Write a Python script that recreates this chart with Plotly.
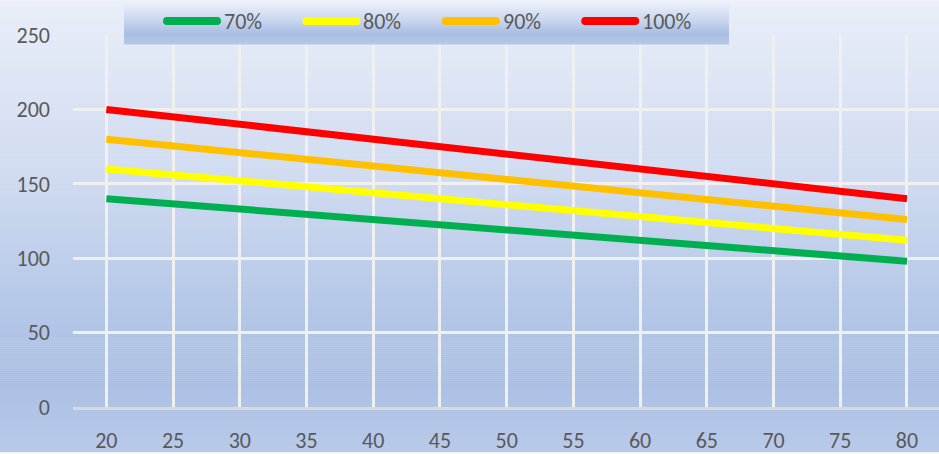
import plotly.graph_objects as go

ages = [20, 25, 30, 35, 40, 45, 50, 55, 60, 65, 70, 75, 80]
hr70 = [140, 136.5, 133, 129.5, 126, 122.5, 119, 115.5, 112, 108.5, 105, 101.5, 98]
hr80 = [160, 156, 152, 148, 144, 140, 136, 132, 128, 124, 120, 116, 112]
hr90 = [180, 175.5, 171, 166.5, 162, 157.5, 153, 148.5, 144, 139.5, 135, 130.5, 126]
hr100 = [200, 195, 190, 185, 180, 175, 170, 165, 160, 155, 150, 145, 140]
series_names = ["70%", "80%", "90%", "100%"]
series_values = [hr70, hr80, hr90, hr100]
series_colors = ["#00b050", "#ffff00", "#ffc000", "#ff0000"]
y_ticks = [0, 50, 100, 150, 200, 250]

W, H = 939, 454
ML, MR, MT, MB = 73, 0, 35, 45
PW, PH = W - ML - MR, H - MT - MB
FONT = "Calibri, Carlito, Lato, sans-serif"
TXT = "#595959"
FS = 22


def px_x(px):
    return (px - ML) / PW


def px_y(py):
    return (H - MB - py) / PH


def lerp_color(stops, t):
    for (t0, c0), (t1, c1) in zip(stops, stops[1:]):
        if t0 <= t <= t1:
            f = 0 if t1 == t0 else (t - t0) / (t1 - t0)
            a = [int(c0[i:i + 2], 16) for i in (1, 3, 5)]
            b = [int(c1[i:i + 2], 16) for i in (1, 3, 5)]
            return "rgb(%d,%d,%d)" % tuple(round(a[k] + (b[k] - a[k]) * f) for k in range(3))
    return stops[-1][1]


fig = go.Figure()
for name, vals, col in zip(series_names, series_values, series_colors):
    fig.add_trace(go.Scatter(x=ages, y=vals, name=name, mode="lines",
                             line=dict(color=col, width=7)))

shapes = []
# background gradient
bg_stops = [(0.0, "#e9eef8"), (0.35, "#d3ddf1"), (0.7, "#b3c6e7"), (0.85, "#abc0e4"), (1.0, "#b9cae9")]
step = 2
for py in range(0, H, step):
    shapes.append(dict(type="rect", xref="paper", yref="paper",
                       x0=px_x(0), x1=px_x(W), y0=px_y(py + step + 0.5), y1=px_y(py),
                       fillcolor=lerp_color(bg_stops, py / H), line=dict(width=0), layer="below"))

# legend box gradient
LX0, LX1, LY0, LY1 = 124, 729, 0, 44
lg_stops = [(0.0, "#eef2fa"), (0.45, "#c9d6ee"), (0.75, "#a9bee3"), (1.0, "#b6c8e8")]
for py in range(LY0, LY1, 1):
    shapes.append(dict(type="rect", xref="paper", yref="paper",
                       x0=px_x(LX0), x1=px_x(LX1), y0=px_y(py + 1.5), y1=px_y(py),
                       fillcolor=lerp_color(lg_stops, (py - LY0) / (LY1 - LY0)),
                       line=dict(width=0), layer="above"))

annotations = []
start, spacing, llen, ly = 163, 139.4, 58, 21
for i, (name, col) in enumerate(zip(series_names, series_colors)):
    x0 = start + i * spacing
    shapes.append(dict(type="line", xref="paper", yref="paper",
                       x0=px_x(x0 + 3), x1=px_x(x0 + llen - 3), y0=px_y(ly), y1=px_y(ly),
                       line=dict(color=col, width=8), layer="above"))
    for cx in (x0 + 4, x0 + llen - 4):
        shapes.append(dict(type="circle", xref="paper", yref="paper",
                           x0=px_x(cx - 4), x1=px_x(cx + 4), y0=px_y(ly + 4), y1=px_y(ly - 4),
                           fillcolor=col, line=dict(width=0), layer="above"))
    annotations.append(dict(xref="paper", yref="paper", x=px_x(x0 + llen + 1), y=px_y(ly),
                            text=name, showarrow=False, xanchor="left", yanchor="middle",
                            font=dict(family=FONT, size=FS, color=TXT)))

fig.update_layout(
    width=W, height=H,
    margin=dict(l=ML, r=MR, t=MT, b=MB),
    paper_bgcolor="rgba(0,0,0,0)", plot_bgcolor="rgba(0,0,0,0)",
    showlegend=False,
    shapes=shapes, annotations=annotations,
    font=dict(family=FONT, size=FS, color=TXT),
    xaxis=dict(range=[17.5, 82.4], tickmode="array", tickvals=ages, ticktext=[str(a) for a in ages],
               showgrid=True, gridcolor="#f0f0f0", gridwidth=2.5,
               showline=True, linecolor="#d9d9d9", linewidth=2.5,
               zeroline=False, ticks="", ticklabelstandoff=12,
               tickfont=dict(family=FONT, size=FS, color=TXT)),
    yaxis=dict(range=[0, 250], tickmode="array", tickvals=y_ticks,
               showgrid=True, gridcolor="#f0f0f0", gridwidth=2.5,
               zeroline=False, showline=False, ticks="", ticklabelstandoff=22,
               tickfont=dict(family=FONT, size=FS, color=TXT)),
)

fig.write_html("out.html")
